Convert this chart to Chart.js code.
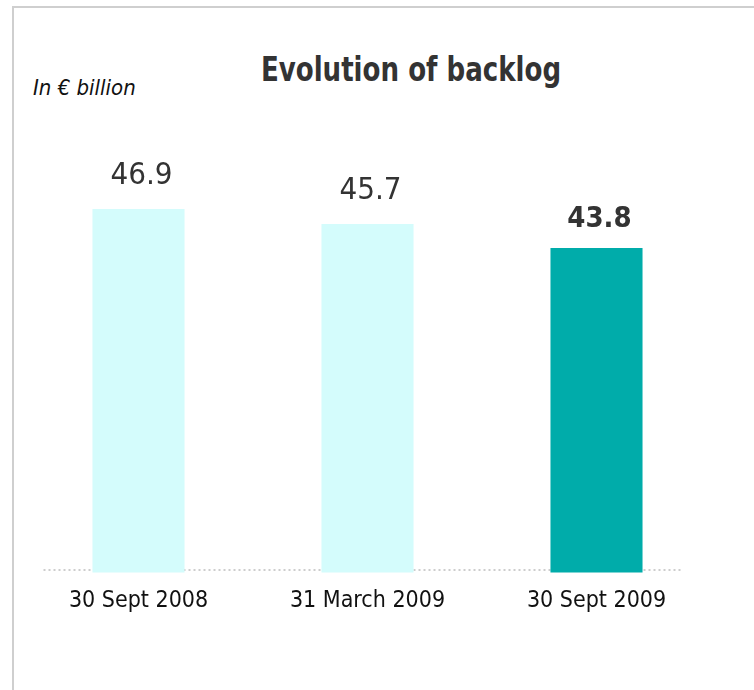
<!DOCTYPE html>
<html>
<head>
<meta charset="utf-8">
<script src="https://cdn.jsdelivr.net/npm/chart.js@4/dist/chart.umd.min.js"></script>
<style>
  html, body { margin: 0; padding: 0; background: #fff; }
  #wrap { position: relative; width: 754px; height: 690px; overflow: hidden; }
  #frame { position: absolute; left: 12px; top: 6px; width: 760px; height: 700px;
           border-left: 2px solid #cfcfcf; border-top: 2px solid #cfcfcf; }
  #title { position: absolute; left: 0; width: 822px; top: 50px; text-align: center;
           font: bold 29px "DejaVu Sans Condensed", sans-serif; color: #333;
           transform: scaleY(1.15); transform-origin: 50% 0; }
  #unit { position: absolute; left: 33px; top: 75px;
          font: italic 22px "DejaVu Sans Condensed", sans-serif; color: #111; }
  canvas { position: absolute; left: 0; top: 0; }
</style>
</head>
<body>
<div id="wrap">
  <div id="frame"></div>
  <div id="title">Evolution of backlog</div>
  <div id="unit">In € billion</div>
  <canvas id="c" width="754" height="690"></canvas>
</div>
<script>
// Order backlog at each reporting date, € billion
const periods = ['30 Sept 2008', '31 March 2009', '30 Sept 2009'];
const backlog = [46.9, 45.7, 43.8];
const valueLabels = ['46.9', '45.7', '43.8'];
const barColors = ['#d4fcfc', '#d4fcfc', '#00acaa'];
const highlighted = 2;

const FONT = '"DejaVu Sans Condensed", sans-serif';

// dotted base line and value captions above the bars
const decor = {
  id: 'decor',
  beforeDatasetsDraw(chart) {
    const { ctx, scales: { x, y } } = chart;
    const yb = y.getPixelForValue(y.min) - 2.5;
    ctx.save();
    ctx.strokeStyle = '#bdbdbd';
    ctx.lineWidth = 1.5;
    ctx.setLineDash([2, 3]);
    ctx.beginPath();
    ctx.moveTo(x.getPixelForValue(0) - 95, yb);
    ctx.lineTo(x.getPixelForValue(periods.length - 1) + 87, yb);
    ctx.stroke();
    ctx.restore();
  },
  afterDatasetsDraw(chart) {
    const { ctx } = chart;
    const meta = chart.getDatasetMeta(0);
    ctx.save();
    ctx.textAlign = 'center';
    ctx.textBaseline = 'alphabetic';
    meta.data.forEach((bar, i) => {
      const bold = i === highlighted;
      ctx.font = (bold ? 'bold 29px ' : '31px ') + FONT;
      ctx.fillStyle = '#333';
      ctx.fillText(valueLabels[i], bar.x + 3, bar.y - (bold ? 21 : 25));
    });
    ctx.restore();
  }
};

new Chart(document.getElementById('c'), {
  type: 'bar',
  data: {
    labels: periods,
    datasets: [{
      data: backlog,
      backgroundColor: barColors,
      borderWidth: 0,
      categoryPercentage: 1,
      barPercentage: 0.402
    }]
  },
  options: {
    responsive: false,
    animation: false,
    layout: { padding: { left: 24, right: 43, top: 170, bottom: 60 } },
    plugins: { legend: { display: false }, tooltip: { enabled: false } },
    scales: {
      x: {
        grid: { display: false, drawTicks: false },
        border: { display: false },
        ticks: { color: '#111', padding: 15, font: { family: FONT, size: 23 } }
      },
      y: {
        display: false,
        min: 18,
        max: 50
      }
    }
  },
  plugins: [decor]
});
</script>
</body>
</html>
